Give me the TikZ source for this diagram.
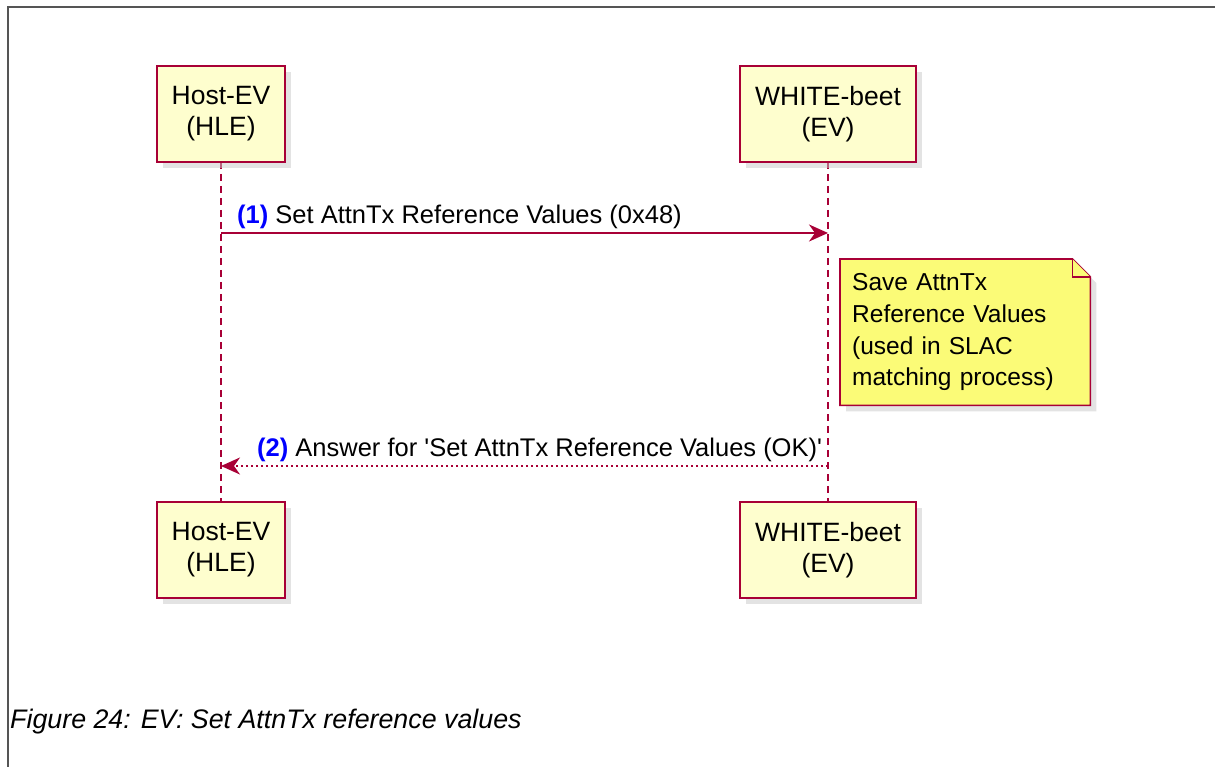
\documentclass[tikz,border=0pt]{standalone}
\usepackage{fontspec}
\setmainfont{Liberation Sans}
\usepackage{xcolor}
\usepackage{tikz}
\usetikzlibrary{arrows.meta,positioning,shadows,backgrounds}
\definecolor{umlred}{HTML}{A80036}
\definecolor{umlbox}{HTML}{FEFECE}
\definecolor{umlnote}{HTML}{FBFB77}
\definecolor{umlblue}{HTML}{0000FF}
\definecolor{framegray}{HTML}{555555}
\tikzstyle{party} = [rectangle, draw=umlred, line width=2pt, fill=umlbox, minimum width=128pt, minimum height=96pt, align=center, font=\fontsize{26.5}{31}\selectfont, drop shadow={shadow xshift=6pt, shadow yshift=-6pt, fill=black!22}]
\tikzstyle{lifeline} = [umlred, line width=1.6pt, dash pattern=on 7pt off 5pt]
\tikzstyle{arrow} = [umlred, line width=2pt, -{Stealth[length=19pt,width=17pt,inset=6pt]}]
\tikzstyle{msg} = [font=\fontsize{25.5}{30}\selectfont, inner sep=0pt]

\begin{document}
\begin{tikzpicture}[x=1pt,y=-1pt]
		\useasboundingbox (0,0) rectangle (1215,767);
		\coordinate (hletop) at (221,114);
		\coordinate (evtop) at (828,114);
		\coordinate (hlebot) at (221,550);
		\coordinate (evbot) at (828,550);
		\coordinate (m1) at (0,233);
		\coordinate (m2) at (0,466);
		% Frame
		\draw[framegray, line width=2pt] (1215,7) -- (8,7) -- (8,767);
		% Lifelines
		\draw[lifeline] (hletop) -- (hlebot);
		\draw[lifeline] (evtop) -- (evbot);
		% Participants
		\begin{scope}[every node/.style={party}]
		\node[name=hletop] at (hletop) {Host-EV\\(HLE)};
		\node[name=evtop, minimum width=176pt] at (evtop) {WHITE-beet\\(EV)};
		\node[name=hlebot] at (hlebot) {Host-EV\\(HLE)};
		\node[name=evbot, minimum width=176pt] at (evbot) {WHITE-beet\\(EV)};
		\end{scope}
		% Messages
		\draw[arrow] (hletop |- m1) -- (evtop |- m1);
		\node[msg, anchor=west] (lab1) at (237,217) {\textcolor{umlblue}{\textbf{(1)}} Set AttnTx Reference Values (0x48)};
		\draw[arrow, dash pattern=on 2.5pt off 2.5pt] (evtop |- m2) -- (hletop |- m2);
		\node[msg, anchor=west] (lab2) at (257,450) {\textcolor{umlblue}{\textbf{(2)}} Answer for \textquotesingle Set AttnTx Reference Values (OK)\textquotesingle};
		% Note
		\node[name=note, anchor=north west, text width=226pt, inner xsep=12pt, minimum height=146pt, align=left, font=\fontsize{24.5}{31.7}\selectfont] at (840,259) {Save AttnTx\\Reference Values\\(used in SLAC\\matching process)};
		\begin{scope}[on background layer]
		\draw[umlred, line width=1.6pt, fill=umlnote, drop shadow={shadow xshift=6pt, shadow yshift=-6pt, fill=black!22}] (note.north west) -- ([xshift=-18pt]note.north east) -- ([yshift=-18pt]note.north east) -- (note.south east) -- (note.south west) -- cycle;
		\draw[umlred, line width=1.6pt, fill=umlnote] ([xshift=-18pt]note.north east) -- ([xshift=-18pt,yshift=-18pt]note.north east) -- ([yshift=-18pt]note.north east);
		\end{scope}
		% Caption
		\node[anchor=base west, inner sep=0pt, font=\fontsize{26.8}{32}\selectfont\itshape] (caption) at (10,728) {Figure 24: EV: Set AttnTx reference values};
\end{tikzpicture}
\end{document}
